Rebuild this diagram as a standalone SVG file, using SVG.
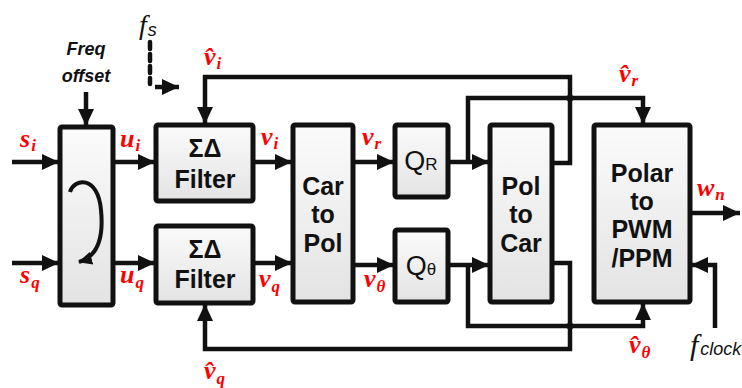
<svg xmlns="http://www.w3.org/2000/svg" width="742" height="388" viewBox="0 0 742 388">
<defs>
<linearGradient id="g" x1="0" y1="0" x2="0" y2="1">
<stop offset="0" stop-color="#fbfbfb"/>
<stop offset="1" stop-color="#e3e3e3"/>
</linearGradient>
<marker id="ah" markerUnits="userSpaceOnUse" markerWidth="18" markerHeight="18" refX="17" refY="9" orient="auto">
<path d="M0,1 L17,9 L0,17 z" fill="#111"/>
</marker>
<marker id="ah2" markerUnits="userSpaceOnUse" markerWidth="16" markerHeight="16" refX="13" refY="8" orient="auto">
<path d="M0,1.5 L14,8 L0,14.5 z" fill="#111"/>
</marker>
</defs>
<style>
.box{fill:url(#g);stroke:#111;stroke-width:5;}
.w{fill:none;stroke:#111;stroke-width:4.5;}
.t{font-family:"Liberation Sans",Arial,sans-serif;font-weight:bold;font-size:25px;fill:#111;text-anchor:middle;}
.q{font-family:"Liberation Sans",Arial,sans-serif;font-size:27px;fill:#111;text-anchor:middle;}
.m{font-family:"Liberation Serif","Times New Roman",serif;font-weight:bold;font-style:italic;font-size:26px;fill:#ff0000;}
.sb{font-size:17px;}
.k{font-family:"Liberation Sans",Arial,sans-serif;font-weight:bold;font-style:italic;font-size:18px;fill:#111;text-anchor:middle;}
</style>

<g id="rotator">
<rect class="box" x="60" y="127" width="53" height="178" rx="2"/>
<path d="M70,192 C74,178 98,175 101,210 C104,240 96,257 79,262" fill="none" stroke="#111" stroke-width="4" marker-end="url(#ah2)"/>
</g>
<g id="filter-i">
<rect class="box" x="156" y="125" width="97" height="76" rx="2"/>
<text class="t" x="205" y="157">ΣΔ</text>
<text class="t" x="205" y="188">Filter</text>
</g>
<g id="filter-q">
<rect class="box" x="156" y="226" width="97" height="77" rx="2"/>
<text class="t" x="205" y="258">ΣΔ</text>
<text class="t" x="205" y="288">Filter</text>
</g>
<g id="car2pol">
<rect class="box" x="293" y="125" width="60" height="177" rx="2"/>
<text class="t" x="323" y="195">Car</text>
<text class="t" x="323" y="223">to</text>
<text class="t" x="323" y="252">Pol</text>
</g>
<g id="qr">
<rect class="box" x="395" y="125" width="53" height="72" rx="2"/>
<text class="q" x="421" y="170">Q<tspan style="font-size:17px">R</tspan></text>
</g>
<g id="qtheta">
<rect class="box" x="395" y="230" width="53" height="72" rx="2"/>
<text class="q" x="421" y="275">Q<tspan style="font-size:17px">θ</tspan></text>
</g>
<g id="pol2car">
<rect class="box" x="490" y="125" width="62" height="177" rx="2"/>
<text class="t" x="521" y="195">Pol</text>
<text class="t" x="521" y="223">to</text>
<text class="t" x="521" y="252">Car</text>
</g>
<g id="polar2pwm">
<rect class="box" x="594" y="125" width="96" height="177" rx="2"/>
<text class="t" x="642" y="182">Polar</text>
<text class="t" x="642" y="210">to</text>
<text class="t" x="642" y="238">PWM</text>
<text class="t" x="642" y="267">/PPM</text>
</g>

<g id="connectors">
<path class="w" d="M12,162 H59" marker-end="url(#ah)"/>
<path class="w" d="M12,263 H59" marker-end="url(#ah)"/>
<path class="w" d="M113,162 H155" marker-end="url(#ah)"/>
<path class="w" d="M113,263 H155" marker-end="url(#ah)"/>
<path class="w" d="M253,162 H292" marker-end="url(#ah)"/>
<path class="w" d="M253,263 H292" marker-end="url(#ah)"/>
<path class="w" d="M353,162 H394" marker-end="url(#ah)"/>
<path class="w" d="M353,265 H394" marker-end="url(#ah)"/>
<path class="w" d="M448,162 H489" marker-end="url(#ah)"/>
<path class="w" d="M448,265 H489" marker-end="url(#ah)"/>
<path class="w" d="M468,162 V98 H643 V124" marker-end="url(#ah)"/>
<path class="w" d="M468,265 V326 H643 V303" marker-end="url(#ah)"/>
<path class="w" d="M552,163 H570 V77 H205 V124" marker-end="url(#ah)"/>
<path class="w" d="M552,263 H570 V349 H205 V304" marker-end="url(#ah)"/>
<circle cx="570" cy="98" r="3.5" fill="#111"/>
<circle cx="570" cy="326" r="3.5" fill="#111"/>
<path class="w" d="M86,92 V126" marker-end="url(#ah)"/>
<path d="M150,42 V84" fill="none" stroke="#111" stroke-width="4.5" stroke-dasharray="7,5" stroke-linecap="round"/>
<path class="w" d="M155,87 H179" marker-end="url(#ah)"/>
<path class="w" d="M690,213 H740" marker-end="url(#ah)"/>
<path class="w" d="M715,328 V265 H691" marker-end="url(#ah)"/>
</g>

<g id="labels">
<text class="k" x="86" y="55">Freq</text>
<text class="k" x="86" y="82">offset</text>
<text x="139" y="34" style="font-family:'Liberation Serif',serif;font-style:italic;font-size:28px;fill:#111">f<tspan dx="1" dy="2" style="font-family:'Liberation Sans',sans-serif;font-size:18px">s</tspan></text>
<text x="690" y="355" style="font-family:'Liberation Serif',serif;font-style:italic;font-size:30px;fill:#111">f<tspan dx="2" dy="0" style="font-family:'Liberation Sans',sans-serif;font-size:18px">clock</tspan></text>
<text class="m" x="20" y="147">s<tspan class="sb" dx="1" dy="4">i</tspan></text>
<text class="m" x="120" y="147">u<tspan class="sb" dx="1" dy="4">i</tspan></text>
<text class="m" x="261" y="145">v<tspan class="sb" dx="1" dy="4">i</tspan></text>
<text class="m" x="362" y="145">v<tspan class="sb" dx="1" dy="4">r</tspan></text>
<text class="m" x="20" y="283">s<tspan class="sb" dx="1" dy="5">q</tspan></text>
<text class="m" x="120" y="283">u<tspan class="sb" dx="1" dy="5">q</tspan></text>
<text class="m" x="259" y="287">v<tspan class="sb" dx="1" dy="5">q</tspan></text>
<text class="m" x="364" y="287">v<tspan class="sb" dx="1" dy="5">θ</tspan></text>
<text class="m" x="697" y="196">w<tspan class="sb" dx="1" dy="4">n</tspan></text>
<text class="m" x="204" y="65">v̂<tspan class="sb" dx="1" dy="4">i</tspan></text>
<text class="m" x="619" y="82">v̂<tspan class="sb" dx="1" dy="4">r</tspan></text>
<text class="m" x="629" y="353">v̂<tspan class="sb" dx="1" dy="5">θ</tspan></text>
<text class="m" x="204" y="379">v̂<tspan class="sb" dx="1" dy="5">q</tspan></text>
</g>
</svg>
